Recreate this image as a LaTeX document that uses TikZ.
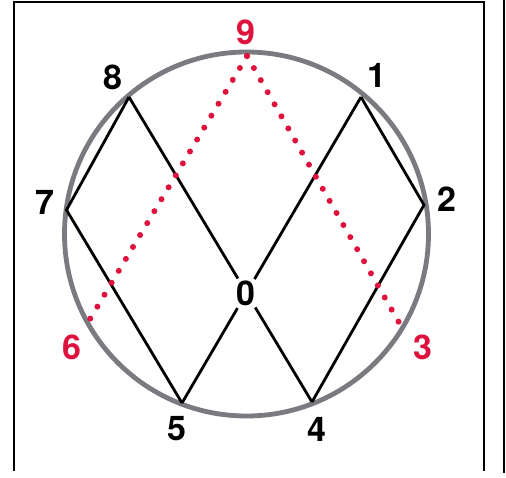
\documentclass[tikz,border=0pt]{standalone}
\usepackage{fontspec}
\setmainfont{TeX Gyre Heros}
\begin{document}
\begin{tikzpicture}[x=1pt,y=-1pt,
  lbl/.style={font=\fontsize{34}{34}\selectfont\bfseries, inner sep=0pt},
  redlbl/.style={lbl, text=myred},
  blackline/.style={line width=2.8pt, black},
  reddots/.style={line width=6pt, myred, line cap=round, dash pattern=on 0pt off 13.9pt},
  ring/.style={line width=4.8pt, ringgray},
  frame/.style={line width=1.8pt, black}]
\definecolor{myred}{RGB}{222,18,60}
\definecolor{ringgray}{RGB}{122,122,128}
\useasboundingbox (0,0) rectangle (506,477);
\fill[white] (0,0) rectangle (506,477);
% frame
\coordinate (fbl) at (14,471);
\coordinate (ftl) at (14,2);
\coordinate (ftr) at (484,2);
\coordinate (fbr) at (484,471);
\coordinate (xt) at (504,0);
\coordinate (xb) at (504,473);
\draw[frame] (fbl) -- (ftl) -- (ftr) -- (fbr);
\draw[frame] (xt) -- (xb);
% circle
\coordinate (c) at (246.5,234);
\draw[ring] (c) circle[radius=182];
% points
\coordinate (p9) at (247,56);
\coordinate (p8) at (129,97);
\coordinate (p1) at (361,97);
\coordinate (p7) at (66.5,210);
\coordinate (p2) at (424,205);
\coordinate (p6) at (90,319);
\coordinate (p3) at (401,326);
\coordinate (p5) at (182,403);
\coordinate (p4) at (312,402);
% zero label
\node[lbl] (n0) at (246,293) {0};
% gap ends near zero
\path (p8) -- (p4) coordinate[pos=0.595] (a1) coordinate[pos=0.69] (a2);
\path (p1) -- (p5) coordinate[pos=0.595] (b1) coordinate[pos=0.69] (b2);
% black lines
\draw[blackline] (p8) -- (p7) -- (p5);
\draw[blackline] (p1) -- (p2) -- (p4);
\draw[blackline] (p8) -- (a1);
\draw[blackline] (a2) -- (p4);
\draw[blackline] (p1) -- (b1);
\draw[blackline] (b2) -- (p5);
% red dotted lines
\draw[reddots] (p9) -- (p6);
\draw[reddots] (p9) -- (p3);
% labels
\node[redlbl] (n9) at (246,32) {9};
\node[lbl] (n8) at (113,77) {8};
\node[lbl] (n1) at (377,75) {1};
\node[lbl] (n7) at (45,202) {7};
\node[lbl] (n2) at (447,199) {2};
\node[redlbl] (n6) at (72,347) {6};
\node[redlbl] (n3) at (423,347) {3};
\node[lbl] (n5) at (177,429) {5};
\node[lbl] (n4) at (317,429) {4};
\end{tikzpicture}
\end{document}
